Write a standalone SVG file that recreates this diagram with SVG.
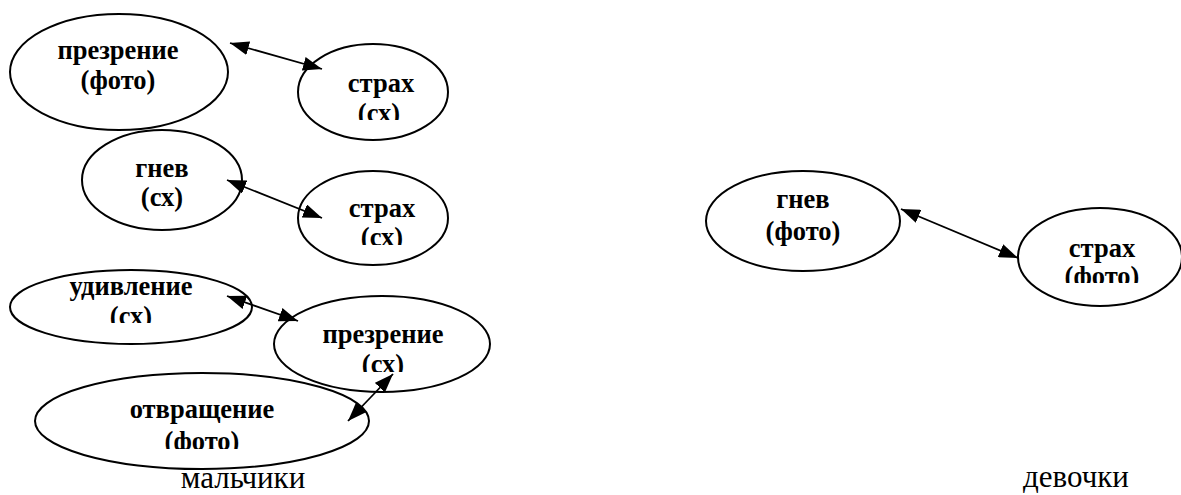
<svg xmlns="http://www.w3.org/2000/svg" width="1181" height="495" viewBox="0 0 1181 495">
<style>
.n{fill:#fff;stroke:#000;stroke-width:2}
.t{font-weight:bold;font-size:26.5px;fill:#000;text-anchor:middle}
.l{font-size:31px;fill:#000;text-anchor:middle}
.c{stroke:#000;stroke-width:1.8;fill:none;marker-start:url(#ah);marker-end:url(#ah)}
</style>
<defs>
<marker id="ah" viewBox="0 0 19 14" markerWidth="19" markerHeight="14" refX="19" refY="7" orient="auto-start-reverse" markerUnits="userSpaceOnUse"><path d="M0,0 L19,7 L0,14 z" fill="#000"/></marker>
<clipPath id="k1"><rect x="0" y="0" width="1181" height="120"/></clipPath>
<clipPath id="k2"><rect x="0" y="0" width="1181" height="245"/></clipPath>
<clipPath id="k3"><rect x="0" y="0" width="1181" height="323"/></clipPath>
<clipPath id="k4"><rect x="0" y="0" width="1181" height="372"/></clipPath>
<clipPath id="k5"><rect x="0" y="0" width="1181" height="449"/></clipPath>
<clipPath id="k6"><rect x="0" y="0" width="1181" height="283"/></clipPath>
</defs>
<rect width="1181" height="495" fill="#fff"/>
<g font-family="Liberation Serif, Times New Roman, serif">
<g id="n-prezrenie-foto">
<ellipse class="n" cx="119" cy="72" rx="109" ry="58"/>
<text class="t" x="118" y="59">презрение</text>
<text class="t" x="118" y="89">(фото)</text>
</g>
<g id="n-strakh-sx-1">
<ellipse class="n" cx="373" cy="92" rx="75" ry="48"/>
<text class="t" x="381" y="92">страх</text>
<text class="t" x="379" y="122" clip-path="url(#k1)">(сх)</text>
</g>
<g id="n-gnev-sx">
<ellipse class="n" cx="162" cy="180" rx="80" ry="50"/>
<text class="t" x="162" y="177">гнев</text>
<text class="t" x="162" y="206">(сх)</text>
</g>
<g id="n-strakh-sx-2">
<ellipse class="n" cx="373" cy="218" rx="75" ry="47"/>
<text class="t" x="382" y="217">страх</text>
<text class="t" x="382" y="246" clip-path="url(#k2)">(сх)</text>
</g>
<g id="n-udivlenie-sx">
<ellipse class="n" cx="131" cy="307" rx="121" ry="37"/>
<text class="t" x="131" y="295">удивление</text>
<text class="t" x="131" y="325" clip-path="url(#k3)">(сх)</text>
</g>
<g id="n-prezrenie-sx">
<ellipse class="n" cx="382" cy="344" rx="108" ry="48"/>
<text class="t" x="383" y="343">презрение</text>
<text class="t" x="383" y="373" clip-path="url(#k4)">(сх)</text>
</g>
<g id="n-otvrashchenie-foto">
<ellipse class="n" cx="202" cy="421" rx="167" ry="48"/>
<text class="t" x="202" y="418">отвращение</text>
<text class="t" x="202" y="450" clip-path="url(#k5)">(фото)</text>
</g>
<g id="n-gnev-foto">
<ellipse class="n" cx="803" cy="221" rx="97" ry="50"/>
<text class="t" x="803" y="208">гнев</text>
<text class="t" x="803" y="240">(фото)</text>
</g>
<g id="n-strakh-foto">
<ellipse class="n" cx="1100" cy="257" rx="82" ry="49"/>
<text class="t" x="1102" y="257">страх</text>
<text class="t" x="1102" y="285" clip-path="url(#k6)">(фото)</text>
</g>
<g id="connectors">
<line class="c" x1="230" y1="43" x2="322" y2="69"/>
<line class="c" x1="227" y1="180" x2="322" y2="218"/>
<line class="c" x1="227" y1="296" x2="298" y2="321"/>
<line class="c" x1="393" y1="374" x2="348" y2="421"/>
<line class="c" x1="901" y1="209" x2="1018" y2="258"/>
</g>
<g id="labels">
<text class="l" x="243" y="488">мальчики</text>
<text class="l" x="1076" y="487">девочки</text>
</g>
</g>
</svg>
